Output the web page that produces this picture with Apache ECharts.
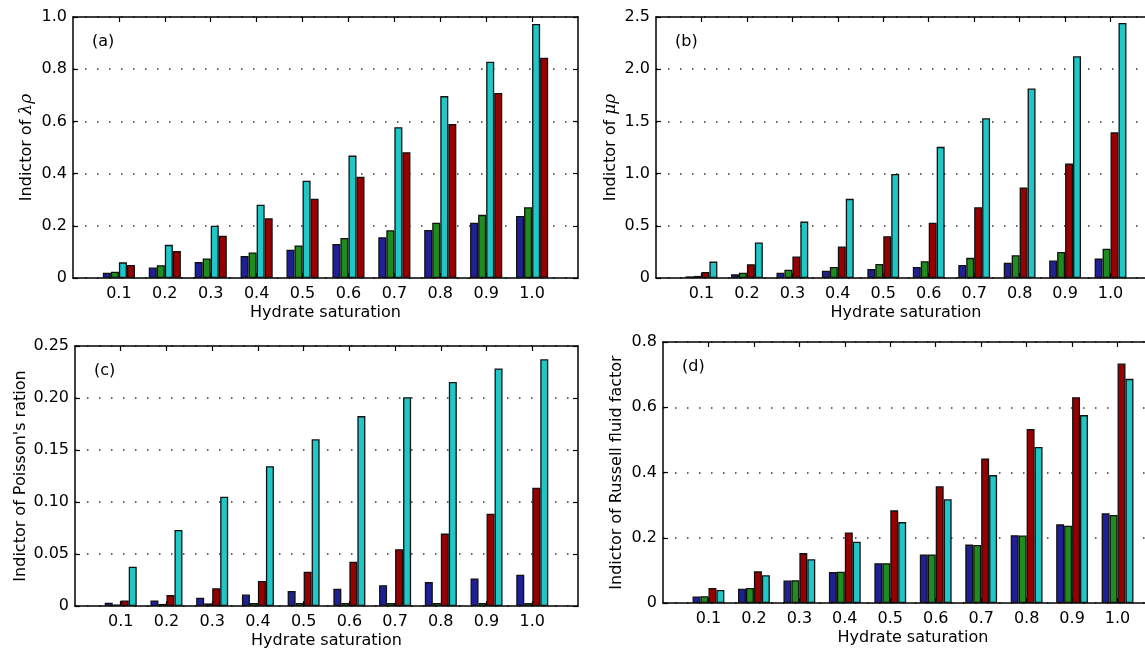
<!DOCTYPE html>
<html>
<head>
<meta charset="utf-8">
<script src="https://cdn.jsdelivr.net/npm/echarts@6/dist/echarts.min.js"></script>
<style>
  html, body { margin: 0; padding: 0; background: #fff; }
  #chart { width: 1145px; height: 650px; }
</style>
</head>
<body>
<div id="chart"></div>
<script>
const categories = ['0.1', '0.2', '0.3', '0.4', '0.5', '0.6', '0.7', '0.8', '0.9', '1.0'];

// (a) lambda-rho
const lambdaBlue  = [0.020, 0.040, 0.061, 0.084, 0.108, 0.130, 0.156, 0.184, 0.212, 0.238];
const lambdaGreen = [0.024, 0.049, 0.075, 0.098, 0.125, 0.153, 0.183, 0.212, 0.242, 0.271];
const lambdaCyan  = [0.060, 0.127, 0.200, 0.281, 0.373, 0.469, 0.578, 0.697, 0.829, 0.973];
const lambdaRed   = [0.050, 0.103, 0.162, 0.229, 0.304, 0.388, 0.482, 0.590, 0.709, 0.844];
const lambdaTicks = ['0', '0.2', '0.4', '0.6', '0.8', '1.0'];

// (b) mu-rho
const muBlue  = [0.016, 0.035, 0.050, 0.070, 0.087, 0.106, 0.125, 0.145, 0.167, 0.186];
const muGreen = [0.020, 0.050, 0.080, 0.106, 0.135, 0.160, 0.193, 0.218, 0.250, 0.280];
const muRed   = [0.058, 0.132, 0.206, 0.302, 0.400, 0.530, 0.678, 0.868, 1.096, 1.395];
const muCyan  = [0.157, 0.340, 0.540, 0.758, 0.996, 1.256, 1.530, 1.815, 2.124, 2.442];
const muTicks = ['0', '0.5', '1.0', '1.5', '2.0', '2.5'];

// (c) Poisson's ratio
const poissonBlue  = [0.0032, 0.0054, 0.0080, 0.0110, 0.0144, 0.0166, 0.0200, 0.0230, 0.0265, 0.0300];
const poissonGreen = [0.0015, 0.0020, 0.0025, 0.0030, 0.0030, 0.0030, 0.0030, 0.0030, 0.0030, 0.0030];
const poissonRed   = [0.0054, 0.0105, 0.0170, 0.0240, 0.0330, 0.0425, 0.0546, 0.0696, 0.0888, 0.1137];
const poissonCyan  = [0.0377, 0.0731, 0.1050, 0.1344, 0.1603, 0.1826, 0.2008, 0.2155, 0.2283, 0.2372];
const poissonTicks = ['0', '0.05', '0.10', '0.15', '0.20', '0.25'];

// (d) Russell fluid factor
const russellBlue  = [0.020, 0.044, 0.069, 0.095, 0.122, 0.149, 0.179, 0.208, 0.241, 0.275];
const russellGreen = [0.021, 0.046, 0.070, 0.096, 0.122, 0.149, 0.178, 0.207, 0.237, 0.270];
const russellRed   = [0.046, 0.097, 0.153, 0.216, 0.284, 0.358, 0.443, 0.533, 0.631, 0.734];
const russellCyan  = [0.040, 0.085, 0.134, 0.188, 0.248, 0.318, 0.392, 0.478, 0.576, 0.687];
const russellTicks = ['0', '0.2', '0.4', '0.6', '0.8'];

const BLUE = '#1f1f96', GREEN = '#1f8c1f', CYAN = '#1ec8c8', RED = '#960000';
const FONT = 'DejaVu Sans';

const panels = [
  { tag: '(a)', name: 'Indictor of {i|λρ}', ticks: lambdaTicks, step: 0.2,
    box: { left: 73, top: 17, width: 505, height: 261 }, nameGap: 38,
    bars: [[lambdaBlue, BLUE], [lambdaGreen, GREEN], [lambdaCyan, CYAN], [lambdaRed, RED]] },
  { tag: '(b)', name: 'Indictor of {i|μρ}', ticks: muTicks, step: 0.5,
    box: { left: 656, top: 17, width: 500, height: 261 }, nameGap: 37,
    bars: [[muBlue, BLUE], [muGreen, GREEN], [muRed, RED], [muCyan, CYAN]] },
  { tag: '(c)', name: "Indictor of Poisson's ration", ticks: poissonTicks, step: 0.05,
    box: { left: 75, top: 346, width: 503, height: 260 }, nameGap: 46,
    bars: [[poissonBlue, BLUE], [poissonGreen, GREEN], [poissonRed, RED], [poissonCyan, CYAN]] },
  { tag: '(d)', name: 'Indictor of Russell fluid factor', ticks: russellTicks, step: 0.2,
    box: { left: 663, top: 342, width: 500, height: 261 }, nameGap: 38,
    bars: [[russellBlue, BLUE], [russellGreen, GREEN], [russellRed, RED], [russellCyan, CYAN]] }
];

// empty slot at each end so the ten groups sit at 1..10 on a 0..11 span
const slots = [''].concat(categories, ['']);
const inner = (i) => i > 0 && i < slots.length - 1;
const black = { color: '#000', width: 1.5 };
const tickIn = { show: true, inside: true, length: 5, lineStyle: { color: '#000', width: 1.2 } };

const grid = [], xAxis = [], yAxis = [], series = [], title = [];

panels.forEach((p, k) => {
  grid.push(Object.assign({ outerBoundsMode: 'none', containLabel: false }, p.box));
  const max = p.step * (p.ticks.length - 1);

  xAxis.push({
    gridIndex: k, type: 'category', data: slots, boundaryGap: false, position: 'bottom',
    axisLine: { show: true, onZero: false, lineStyle: black },
    axisTick: Object.assign({ interval: inner }, tickIn),
    axisLabel: { interval: 0, margin: 8, color: '#000', fontSize: 16, fontFamily: FONT },
    splitLine: { show: false },
    name: 'Hydrate saturation', nameLocation: 'middle', nameGap: 27,
    nameTextStyle: { color: '#000', fontSize: 16, fontFamily: FONT }
  });
  xAxis.push({
    gridIndex: k, type: 'category', data: slots, boundaryGap: false, position: 'top',
    axisLine: { show: true, onZero: false, lineStyle: black },
    axisTick: Object.assign({ interval: inner }, tickIn),
    axisLabel: { show: false }, splitLine: { show: false }
  });

  yAxis.push({
    gridIndex: k, type: 'value', min: 0, max: max, interval: p.step, position: 'left',
    axisLine: { show: true, lineStyle: black },
    axisTick: tickIn,
    axisLabel: {
      margin: 6, color: '#000', fontSize: 16, fontFamily: FONT,
      formatter: (v) => p.ticks[Math.round(v / p.step)]
    },
    splitLine: { show: true, lineStyle: { color: '#333', width: 1.5, type: [1.5, 10.5] } },
    name: p.name, nameLocation: 'middle', nameGap: p.nameGap,
    nameTextStyle: {
      color: '#000', fontSize: 16, fontFamily: FONT,
      rich: { i: { fontStyle: 'italic', fontFamily: 'DejaVu Serif', fontSize: 17, color: '#000' } }
    }
  });
  yAxis.push({
    gridIndex: k, type: 'value', min: 0, max: max, interval: p.step, position: 'right',
    axisLine: { show: true, lineStyle: black },
    axisTick: tickIn,
    axisLabel: { show: false }, splitLine: { show: false }
  });

  p.bars.forEach(([values, colour]) => {
    series.push({
      type: 'bar', xAxisIndex: 2 * k, yAxisIndex: 2 * k,
      data: [null].concat(values, [null]),
      barGap: '0%', barCategoryGap: '30%',
      itemStyle: { color: colour, borderColor: '#111', borderWidth: 1.3 }
    });
  });

  title.push({
    text: p.tag, left: p.box.left + 19, top: p.box.top + 17, padding: 0,
    textStyle: { color: '#000', fontSize: 16, fontWeight: 'normal', fontFamily: FONT }
  });
});

const chart = echarts.init(document.getElementById('chart'));
chart.setOption({
  animation: false,
  backgroundColor: '#fff',
  title, grid, xAxis, yAxis, series
});
</script>
</body>
</html>
